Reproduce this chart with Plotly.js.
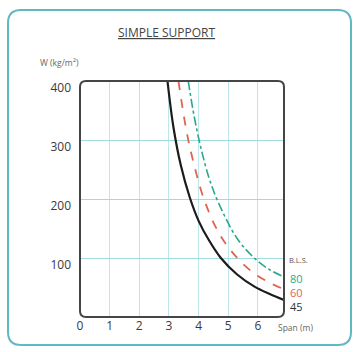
<!DOCTYPE html>
<html>
<head>
<meta charset="utf-8">
<script src="https://cdn.plot.ly/plotly-3.0.1.min.js"></script>
<style>html,body{margin:0;padding:0;background:#fff;}#chart{width:355px;height:352px;}</style>
</head>
<body>
<div id="chart"></div>
<script>
// Data
const blackX = [2.95, 3.15, 3.4, 3.7, 4.0, 4.35, 4.75, 5.3, 5.9, 6.4, 6.88];
const blackY = [400, 322, 257, 203, 163, 130, 100, 72, 51, 39, 29];
const redX = [3.32, 3.55, 3.75, 4.18, 4.7, 5.32, 5.9, 6.4, 6.88];
const redY = [400, 327, 278, 200, 141, 99, 73, 58, 47];
const greenX = [3.65, 3.85, 4.08, 4.35, 4.65, 5.3, 5.92, 6.4, 6.88];
const greenY = [400, 340, 286, 236, 196, 133, 98, 80, 68];
const seriesLabels = ['45', '60', '80'];
const xTicks = [0, 1, 2, 3, 4, 5, 6];
const yTicks = [100, 200, 300, 400];

const W = 355, H = 352;
const mL = 80, mR = 71, mT = 81, mB = 35;
const pw = W - mL - mR, ph = H - mT - mB;
const px = v => (v - mL) / pw;
const py = v => (H - mB - v) / ph;

function roundRect(x0, y0, x1, y1, r) {
  const rx = r / pw, ry = r / ph;
  const L = px(x0), R = px(x1), T = py(y0), B = py(y1);
  return `M${L + rx},${T} L${R - rx},${T} Q${R},${T} ${R},${T - ry} L${R},${B + ry} Q${R},${B} ${R - rx},${B} L${L + rx},${B} Q${L},${B} ${L},${B + ry} L${L},${T - ry} Q${L},${T} ${L + rx},${T} Z`;
}

const traces = [
  {x: blackX, y: blackY, mode: 'lines', line: {color: '#1c1c1c', width: 2.2, shape: 'spline'}, hoverinfo: 'skip'},
  {x: redX, y: redY, mode: 'lines', line: {color: '#e0644f', width: 1.8, dash: 'dash', shape: 'spline'}, hoverinfo: 'skip'},
  {x: greenX, y: greenY, mode: 'lines', line: {color: '#2aa88c', width: 1.6, dash: 'dashdot', shape: 'spline'}, hoverinfo: 'skip'}
];

const ann = (text, x, y, size, color, xanchor) => ({
  text, x: px(x), y: py(y), xref: 'paper', yref: 'paper', showarrow: false,
  xanchor: xanchor || 'left', yanchor: 'middle',
  font: {family: 'Open Sans, sans-serif', size, color}
});

const layout = {
  width: W, height: H,
  margin: {l: mL, r: mR, t: mT, b: mB},
  paper_bgcolor: '#ffffff', plot_bgcolor: '#ffffff',
  showlegend: false,
  font: {family: 'Open Sans, sans-serif', color: '#444'},
  xaxis: {
    range: [0, 6.88], tickvals: xTicks, ticktext: xTicks.map(String),
    showgrid: true, gridcolor: '#bfe6ea', gridwidth: 1,
    zeroline: false, showline: false, ticks: '',
    tickfont: {size: 12, color: '#3a3a3a'}, fixedrange: true
  },
  yaxis: {
    range: [0, 400], tickvals: yTicks, ticktext: yTicks.map(String),
    showgrid: true, gridcolor: '#9fdbe1', gridwidth: 1,
    zeroline: false, showline: false, ticks: '',
    ticklabelshift: 7, ticklabelstandoff: 8,
    tickfont: {size: 12, color: '#3a3a3a'}, fixedrange: true
  },
  shapes: [
    {type: 'path', xref: 'paper', yref: 'paper', path: roundRect(8, 10, 351, 345, 13),
     line: {color: '#5fb9c3', width: 2}, layer: 'below'},
    {type: 'path', xref: 'paper', yref: 'paper', path: roundRect(80, 81, 284, 317, 6),
     line: {color: '#454545', width: 2}, layer: 'above'}
  ],
  annotations: [
    ann('<u>SIMPLE SUPPORT</u>', 166, 32, 12, '#444', 'center'),
    ann('W (kg/m<sup>2</sup>)', 38, 62, 8.5, '#666'),
    ann('B.L.S.', 287, 260, 7.5, '#555'),
    ann(seriesLabels[2], 288, 278, 11, '#2aa88c'),
    ann(seriesLabels[1], 288, 292, 11, '#e0644f'),
    ann(seriesLabels[0], 288, 306, 11, '#333'),
    ann('Span (m)', 276, 327, 8.5, '#666')
  ]
};

Plotly.newPlot('chart', traces, layout, {displayModeBar: false, staticPlot: true});
</script>
</body>
</html>
